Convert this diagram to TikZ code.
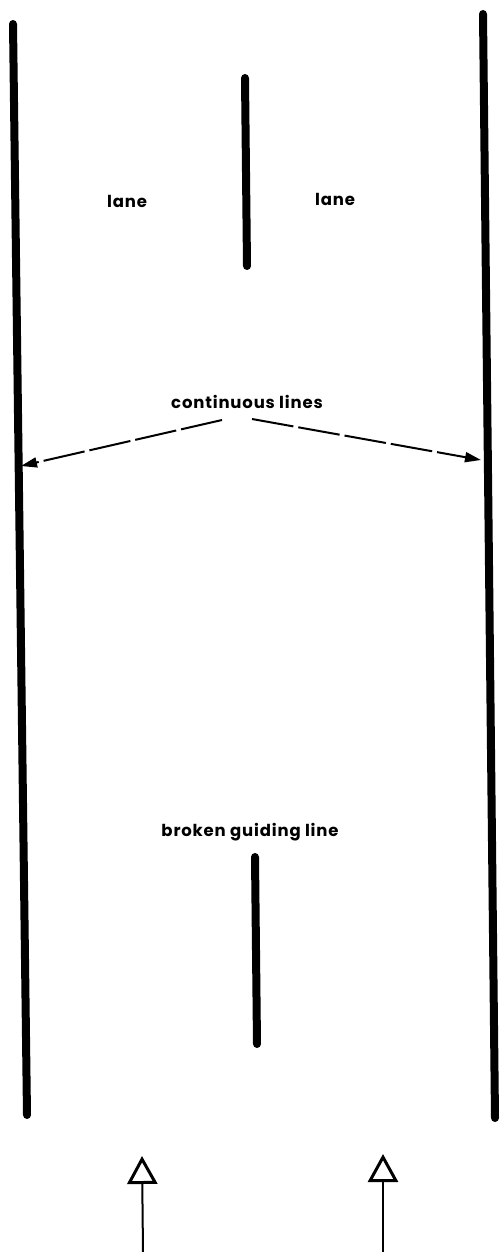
\documentclass[tikz,border=0pt]{standalone}
\usepackage{fontspec}
\setmainfont{Poppins}
\usetikzlibrary{arrows.meta}
\begin{document}
\begin{tikzpicture}[x=1pt,y=-1pt,
  roadline/.style={line width=8pt,line cap=round},
  lbl/.style={font=\bfseries\fontsize{16.5}{18}\selectfont\addfontfeature{LetterSpace=5}, inner sep=1pt},
  callout/.style={line width=2pt, dash pattern=on 42pt off 5pt,
    -{Triangle[length=16pt,width=10pt]}},
  dirarrow/.style={line width=2pt,
    -{Triangle[open,length=28pt,width=30pt,line width=3pt]}}
]
\useasboundingbox (0,0) rectangle (499,1252);
% edge lines
\coordinate (L1) at (13,24);
\coordinate (L2) at (27,1115);
\coordinate (R1) at (483,14);
\coordinate (R2) at (495,1118);
\draw[roadline] (L1) -- (L2);
\draw[roadline] (R1) -- (R2);
% centre lines
\coordinate (C1) at (245,78);
\coordinate (C2) at (247,266);
\draw[roadline] (C1) -- (C2);
\coordinate (B1) at (255,857);
\coordinate (B2) at (257,1044);
\draw[roadline] (B1) -- (B2);
% labels
\node[lbl] (laneL) at (127,201) {lane};
\node[lbl] (laneR) at (335,199) {lane};
\node[lbl] (cont) at (247,402) {continuous lines};
\node[lbl] (broken) at (250,832) {broken guiding line};
% callouts
\coordinate (sL) at (222,420);
\coordinate (sR) at (252,419);
\coordinate (tl) at (21,466);
\coordinate (tr) at (481,460);
\draw[callout] (sL) -- (tl);
\draw[callout] (sR) -- (tr);
% direction arrows
\coordinate (a1s) at (143,1252);
\coordinate (a1e) at (142,1156);
\coordinate (a2s) at (383,1252);
\coordinate (a2e) at (383,1154);
\draw[dirarrow] (a1s) -- (a1e);
\draw[dirarrow] (a2s) -- (a2e);
\end{tikzpicture}
\end{document}
